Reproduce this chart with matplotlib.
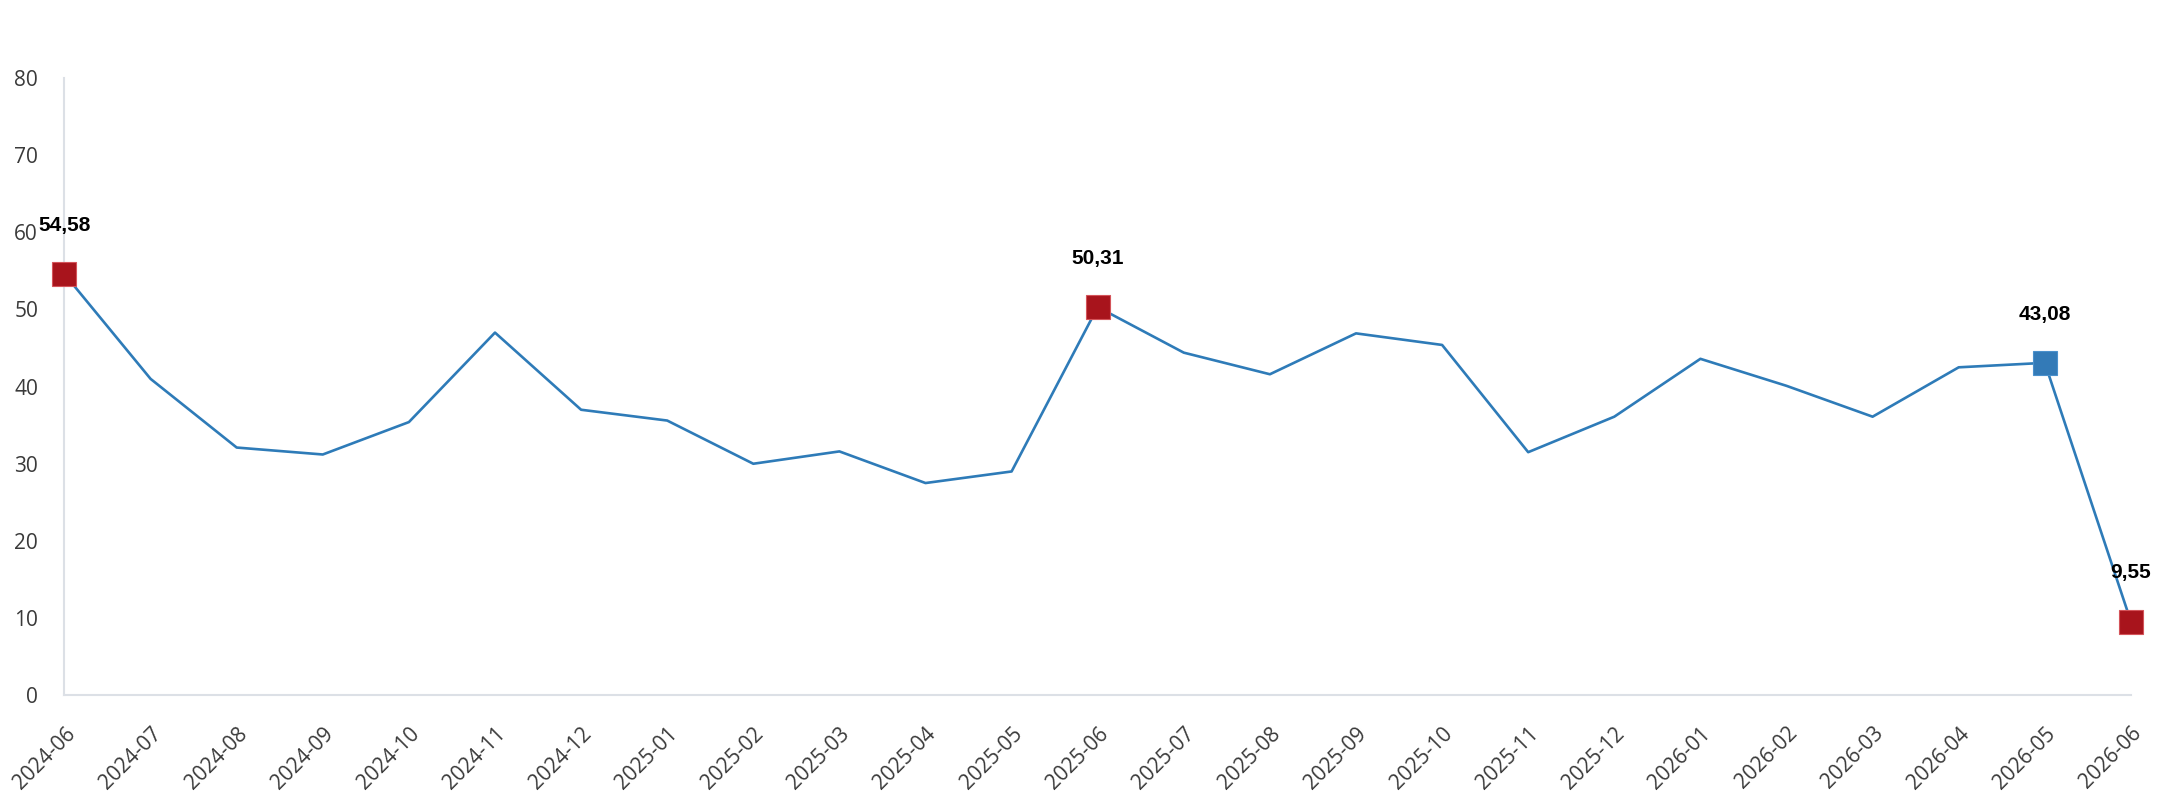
import matplotlib
matplotlib.use('Agg')

import numpy as np
import matplotlib.pyplot as plt


# ------------ Data ---------------
months = ['2024-06', '2024-07', '2024-08', '2024-09', '2024-10', '2024-11',
          '2024-12', '2025-01', '2025-02', '2025-03', '2025-04', '2025-05',
          '2025-06', '2025-07', '2025-08', '2025-09', '2025-10', '2025-11',
          '2025-12', '2026-01', '2026-02', '2026-03', '2026-04', '2026-05',
          '2026-06']
values = [54.58, 41.0, 32.1, 31.2, 35.4, 47.0,
          37.0, 35.6, 30.0, 31.6, 27.5, 29.0,
          50.31, 44.4, 41.6, 46.9, 45.4, 31.5,
          36.1, 43.6, 40.1, 36.1, 42.5, 43.08,
          9.55]
# highlighted points: index -> marker colour
highlights = {0: '#A8141C', 12: '#A8141C', 23: '#337AB7', 24: '#A8141C'}
yticks = [0, 10, 20, 30, 40, 50, 60, 70, 80]

LINE_COLOR = '#2E7BB8'
AXIS_COLOR = '#DCE0E6'
TEXT_COLOR = '#3A3A3A'

fig = plt.figure(figsize=(21.57, 8), dpi=100)
ax = fig.add_axes([0.0299, 0.131, 0.958, 0.7715])

x = np.arange(len(months))
ax.plot(x, values, color=LINE_COLOR, linewidth=1.9, zorder=2)

for i, col in highlights.items():
    ax.plot(x[i], values[i], marker='s', markersize=17, color=col,
            markeredgecolor='#D4545A' if col != '#337AB7' else '#4A90CC',
            markeredgewidth=0.8, linestyle='none', zorder=3, clip_on=False)
    label = f'{values[i]:.2f}'.replace('.', ',')
    ax.annotate(label, (x[i], values[i]), xytext=(0, 35),
                textcoords='offset points', ha='center', va='center',
                fontsize=15, fontweight='bold', family='Liberation Sans',
                color='black', zorder=4, annotation_clip=False)

# ------------ Axes format ---------------
ax.set_xlim(0, len(months) - 1)
ax.set_ylim(0, 80)
ax.set_yticks(yticks)
ax.set_xticks(x)
ax.set_xticklabels(months, rotation=45, ha='right', rotation_mode='anchor')

for side in ['top', 'right']:
    ax.spines[side].set_visible(False)
for side in ['left', 'bottom']:
    ax.spines[side].set_color(AXIS_COLOR)
    ax.spines[side].set_linewidth(1.5)

ax.tick_params(axis='both', length=0, colors=TEXT_COLOR, labelsize=15)
ax.tick_params(axis='y', pad=19)
ax.tick_params(axis='x', pad=20)
for lab in ax.get_xticklabels() + ax.get_yticklabels():
    lab.set_family('Open Sans')

fig.savefig('out.png', dpi=100)
